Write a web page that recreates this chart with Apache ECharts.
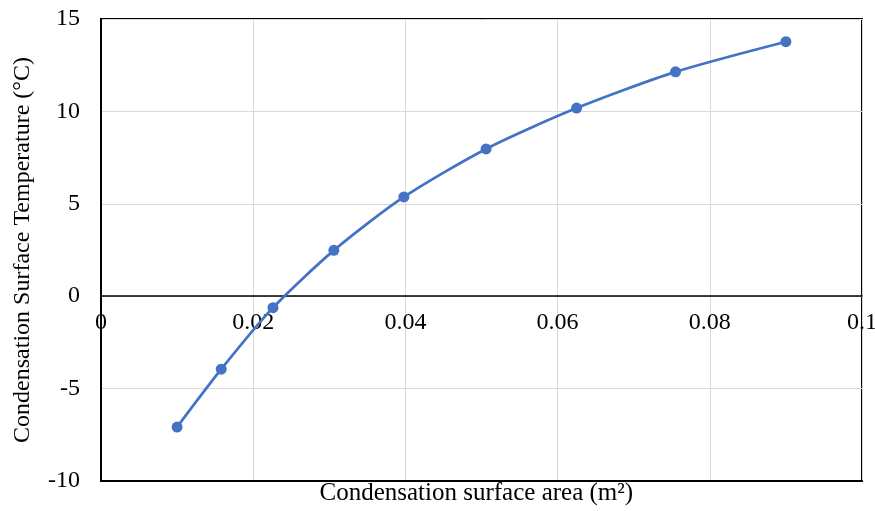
<!DOCTYPE html>
<html>
<head>
<meta charset="utf-8">
<script src="https://cdn.jsdelivr.net/npm/echarts@6/dist/echarts.min.js"></script>
<style>html,body{margin:0;padding:0;background:#fff;}#c{width:875px;height:511px;}</style>
</head>
<body>
<div id="c"></div>
<script>
const areas = [0.0100, 0.0158, 0.0226, 0.0306, 0.0398, 0.0506, 0.0625, 0.0755, 0.0900];
const temps = [-7.08, -3.95, -0.62, 2.48, 5.37, 7.97, 10.18, 12.14, 13.77];
const xTitle = 'Condensation surface area (m²)';
const yTitle = 'Condensation Surface Temperature (°C)';

const chart = echarts.init(document.getElementById('c'));
const font = '"Liberation Serif", "Times New Roman", serif';
const gridLeft = 101, gridRight = 13, gridTop = 19, gridBottom = 30;
const W = 875, H = 511;
const yMin = -10, yMax = 15;
const plotH = H - gridTop - gridBottom;
const zeroOffset = -plotH * (0 - yMin) / (yMax - yMin);
chart.setOption({
  animation: false,
  backgroundColor: '#fff',
  textStyle: { fontFamily: font },
  graphic: [{
    type: 'text',
    left: (gridLeft + (W - gridRight)) / 2 - 162,
    top: 481,
    style: { text: xTitle, fontFamily: font, fontSize: 25, fill: '#000' }
  }],
  grid: { left: gridLeft, right: gridRight, top: gridTop, bottom: gridBottom, show: true, borderColor: '#000', borderWidth: 2,
    containLabel: false, outerBoundsMode: 'none' },
  xAxis: [{
    type: 'value', min: 0, max: 0.1, interval: 0.02,
    offset: zeroOffset,
    axisLine: { onZero: false, lineStyle: { color: '#000', width: 1.5 } },
    axisTick: { show: false },
    splitLine: { lineStyle: { color: '#d9d9d9', width: 1 } },
    axisLabel: { color: '#000', fontSize: 24, fontFamily: font, margin: 15,
      formatter: v => String(Math.round(v * 100) / 100) }
  }, {
    type: 'value', min: 0, max: 0.1, interval: 0.02, position: 'bottom',
    axisLine: { show: true, onZero: false, lineStyle: { color: '#000', width: 2 } },
    axisTick: { show: false }, axisLabel: { show: false }, splitLine: { show: false }
  }],
  yAxis: {
    type: 'value', min: yMin, max: yMax, interval: 5,
    name: yTitle, nameLocation: 'middle', nameGap: 66,
    nameTextStyle: { color: '#000', fontSize: 24, fontFamily: font },
    axisLine: { show: true, lineStyle: { color: '#000', width: 2 } },
    axisTick: { show: false },
    splitLine: { lineStyle: { color: '#d9d9d9', width: 1 } },
    axisLabel: { color: '#000', fontSize: 24, fontFamily: font, margin: 21 }
  },
  series: [{
    type: 'line',
    xAxisIndex: 0,
    data: areas.map((a, i) => [a, temps[i]]),
    smooth: 0.25,
    symbol: 'circle', symbolSize: 11,
    itemStyle: { color: '#4472C4' },
    lineStyle: { color: '#4472C4', width: 2.75 }
  }]
});
</script>
</body>
</html>
